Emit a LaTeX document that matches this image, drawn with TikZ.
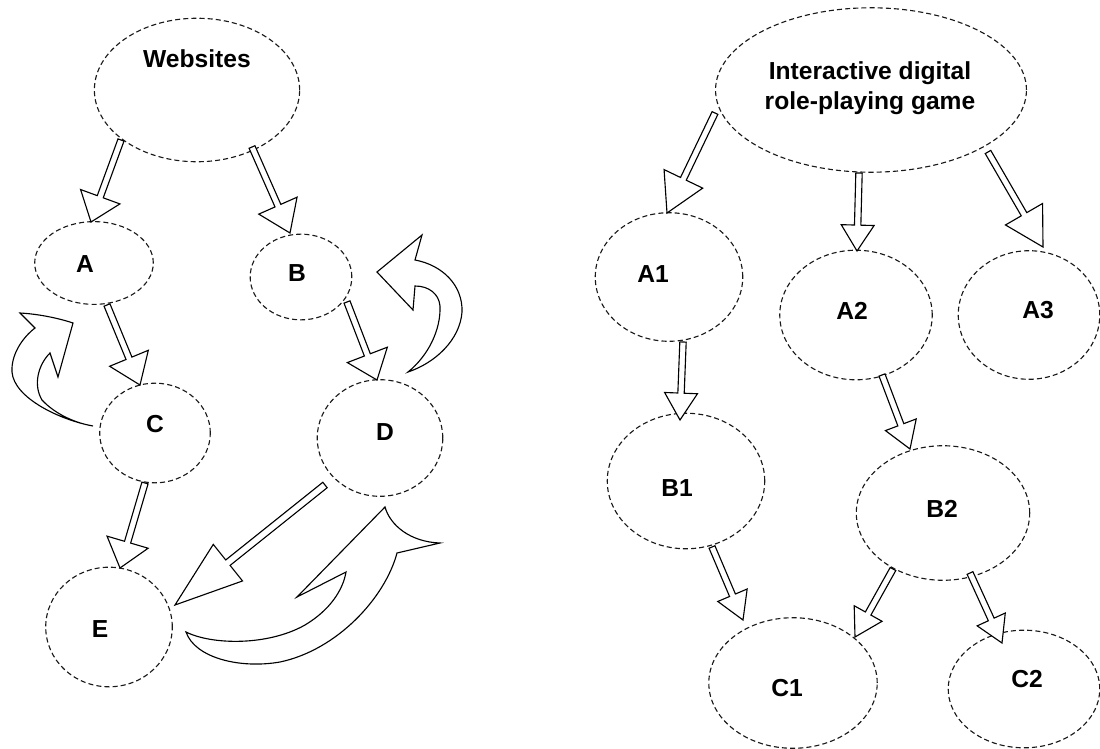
\documentclass[tikz,border=0pt]{standalone}
\usepackage{fontspec}
\setmainfont{Liberation Sans}
\usetikzlibrary{calc,shapes.geometric}
\def\px{0.7087pt}
% hollow block arrow: #1 start, #2 tip, #3 shaft half width, #4 head half width, #5 head length (all in px)
\newcommand\blockarrow[5]{%
  \draw[blk] ($(#1)!#3*\px!90:(#2)$)
    -- ($(#2)!#5*\px!(#1)!#3*\px!-90:(#1)$)
    -- ($(#2)!#5*\px!(#1)!#4*\px!-90:(#1)$)
    -- (#2)
    -- ($(#2)!#5*\px!(#1)!#4*\px!90:(#1)$)
    -- ($(#2)!#5*\px!(#1)!#3*\px!90:(#1)$)
    -- ($(#1)!#3*\px!-90:(#2)$) -- cycle;}
\begin{document}
\begin{tikzpicture}[x=0.025cm,y=-0.025cm,
  ell/.style={draw=black!90, dash pattern=on 3.6pt off 2.2pt, line width=0.8pt, ellipse, inner sep=0pt},
  sz/.style 2 args={minimum width=#1*\px, minimum height=#2*\px},
  lbl/.style={font=\fontsize{17.5}{21.5}\selectfont\bfseries, inner sep=0pt, align=center},
  blk/.style={draw=black, fill=white, line width=0.8pt, line join=miter}]
\useasboundingbox (0,0) rectangle (1100,749);

% ---------- left diagram ----------
\node[ell, sz={206}{144}] (web) at (197,90) {};
\node[ell, sz={119}{83}]  (a) at (94,263) {};
\node[ell, sz={102}{86}]  (b) at (301,277) {};
\node[ell, sz={111}{100}] (c) at (155,433) {};
\node[ell, sz={126}{117}] (d) at (380,438) {};
\node[ell, sz={127}{120}] (e) at (109,627) {};

\node[lbl] (webl) at (197,59) {Websites};
\node[lbl] (al) at (85,264) {A};
\node[lbl] (bl) at (297,273) {B};
\node[lbl] (cl) at (155,424) {C};
\node[lbl] (dl) at (385,432) {D};
\node[lbl] (el) at (100,629) {E};

% ---------- right diagram ----------
\node[ell, sz={312}{165}] (rpg) at (871,90) {};
\node[ell, sz={148}{129}] (a1) at (669,277) {};
\node[ell, sz={153}{130}] (a2) at (856,315) {};
\node[ell, sz={142}{129}] (a3) at (1029,315) {};
\node[ell, sz={158}{136}] (b1) at (686,481) {};
\node[ell, sz={174}{135}] (b2) at (943,513) {};
\node[ell, sz={169}{131}] (c1) at (793,683) {};
\node[ell, sz={152}{118}] (c2) at (1024,689) {};

\node[lbl] (rpgl) at (870,88) {Interactive digital\\role-playing game};
\node[lbl] (a1l) at (653,274) {A1};
\node[lbl] (a2l) at (852,311) {A2};
\node[lbl] (a3l) at (1038,310) {A3};
\node[lbl] (b1l) at (677,488) {B1};
\node[lbl] (b2l) at (942,509) {B2};
\node[lbl] (c1l) at (787,688) {C1};
\node[lbl] (c2l) at (1027,679) {C2};

% ---------- arrow end points ----------
\coordinate (webAs) at (121,140);  \coordinate (webAt) at (91,222);
\coordinate (webBs) at (252,147);  \coordinate (webBt) at (290,233);
\coordinate (aCs) at (107,305);    \coordinate (aCt) at (140,385);
\coordinate (bDs) at (347,302);    \coordinate (bDt) at (377,380);
\coordinate (cEs) at (145,483);    \coordinate (cEt) at (120,568);
\coordinate (dEs) at (325,485);    \coordinate (dEt) at (175,605);
\coordinate (rA1s) at (715,113);   \coordinate (rA1t) at (667,213);
\coordinate (rA2s) at (859,173);   \coordinate (rA2t) at (857,251);
\coordinate (rA3s) at (988,152);   \coordinate (rA3t) at (1043,247);
\coordinate (a1B1s) at (683,342);  \coordinate (a1B1t) at (680,420);
\coordinate (a2B2s) at (882,375);  \coordinate (a2B2t) at (910,449);
\coordinate (b1C1s) at (712,547);  \coordinate (b1C1t) at (743,620);
\coordinate (b2C1s) at (893,569);  \coordinate (b2C1t) at (855,637);
\coordinate (b2C2s) at (970,573);  \coordinate (b2C2t) at (1002,643);

\blockarrow{webAs}{webAt}{3.2}{21}{27}
\blockarrow{webBs}{webBt}{3.2}{21}{30}
\blockarrow{aCs}{aCt}{3.2}{21}{29}
\blockarrow{bDs}{bDt}{3.2}{21.5}{27}
\blockarrow{cEs}{cEt}{3.2}{21.5}{27}
\blockarrow{dEs}{dEt}{3.5}{23.5}{68}
\blockarrow{rA1s}{rA1t}{3.2}{21.5}{38}
\blockarrow{rA2s}{rA2t}{3.2}{16.5}{26}
\blockarrow{rA3s}{rA3t}{3.2}{21.5}{38}
\blockarrow{a1B1s}{a1B1t}{3.2}{16.5}{27}
\blockarrow{a2B2s}{a2B2t}{3.2}{16.5}{26}
\blockarrow{b1C1s}{b1C1t}{3.2}{16}{27}
\blockarrow{b2C1s}{b2C1t}{3.2}{16}{27}
\blockarrow{b2C2s}{b2C2t}{3.2}{15.5}{26}

% ---------- curved hollow arrows ----------
% near C
\draw[blk] (93,426) .. controls (60,420) and (14,398) .. (12,372)
  .. controls (11,355) and (22,338) .. (35,328) -- (20,313)
  .. controls (38,314) and (58,318) .. (73,323) -- (58,377) -- (50,353)
  .. controls (38,365) and (33,385) .. (42,400)
  .. controls (55,414) and (75,423) .. (93,426) -- cycle;
% near D
\draw[blk] (377,272) -- (422,235) -- (415,260)
  .. controls (442,265) and (463,285) .. (462,312)
  .. controls (460,340) and (435,363) .. (408,372)
  .. controls (428,356) and (441,330) .. (440,306)
  .. controls (439,294) and (429,286) .. (415,286) -- (413,310) -- cycle;
% bottom
\draw[blk] (385,507) .. controls (390,525) and (410,542) .. (440,543) -- (397,553)
  .. controls (385,598) and (337,650) .. (280,662)
  .. controls (240,669) and (195,658) .. (186,632)
  .. controls (212,645) and (268,646) .. (305,625)
  .. controls (330,610) and (343,590) .. (346,572) -- (297,597) -- cycle;
\end{tikzpicture}
\end{document}
